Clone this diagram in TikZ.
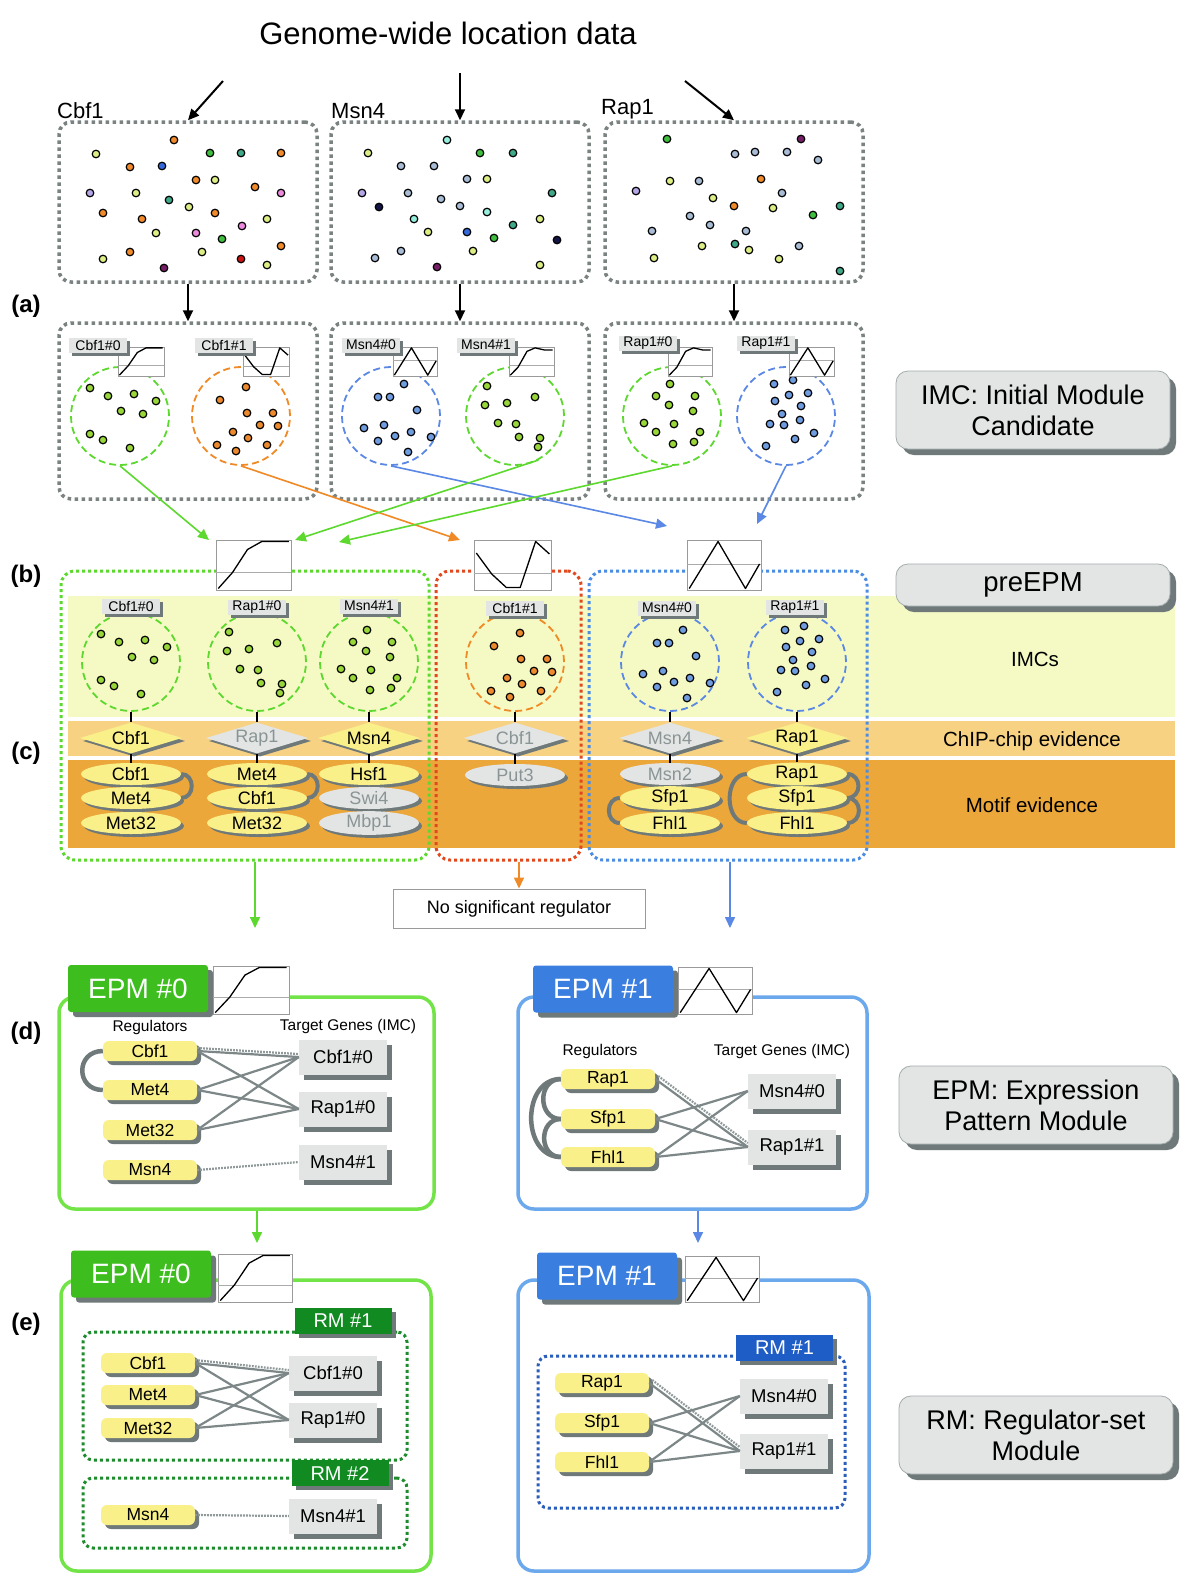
\documentclass[tikz,border=0pt]{standalone}
\usepackage{fontspec}
\setmainfont{Liberation Sans}
\usetikzlibrary{positioning,shapes.geometric,shadows,arrows.meta,calc}

\pgfdeclarelayer{bands}
\pgfdeclarelayer{arcs}
\pgfsetlayers{bands,arcs,main}

\definecolor{dotgray}{HTML}{7A8282}
\definecolor{boxgray}{HTML}{E3E5E5}
\definecolor{bordergray}{HTML}{A4ACAC}
\definecolor{shadowgray}{HTML}{6F7979}
\definecolor{chartgray}{HTML}{9A9A9A}
\definecolor{midgray}{HTML}{ABABAB}
\definecolor{fadegray}{HTML}{8A9494}
\definecolor{linkgray}{HTML}{7D8787}
\definecolor{regyellow}{HTML}{FAF08A}
\definecolor{lgreen}{HTML}{5CD82E}
\definecolor{lorange}{HTML}{F08A26}
\definecolor{lblue}{HTML}{5A88E4}
\definecolor{dotgreen}{HTML}{98D63A}
\definecolor{dotorange}{HTML}{EE8A2E}
\definecolor{dotblue}{HTML}{6F9DE0}
\definecolor{preRed}{HTML}{E2481E}
\definecolor{preBlue}{HTML}{4C8CE2}
\definecolor{bandimc}{HTML}{F5F9C4}
\definecolor{bandchip}{HTML}{F8D283}
\definecolor{bandmotif}{HTML}{EBA73A}
\definecolor{epmgreen}{HTML}{72E448}
\definecolor{headgreen}{HTML}{3DBE1E}
\definecolor{epmblue}{HTML}{6CA8EC}
\definecolor{headblue}{HTML}{3A7EE0}
\definecolor{rmgreen}{HTML}{118A22}
\definecolor{rmblue}{HTML}{1F5DC6}
\definecolor{rmdotgreen}{HTML}{1E8C2C}
\definecolor{rmdotblue}{HTML}{2A5EBA}
% gene dot colours
\definecolor{dor}{HTML}{F08A2A}
\definecolor{dyg}{HTML}{DDEE84}
\definecolor{dgr}{HTML}{3FBE3F}
\definecolor{dte}{HTML}{3FA888}
\definecolor{dbl}{HTML}{3568DA}
\definecolor{dlb}{HTML}{A9BCD6}
\definecolor{dla}{HTML}{B6A6E6}
\definecolor{dpk}{HTML}{EE8ADD}
\definecolor{dpu}{HTML}{771E68}
\definecolor{dnv}{HTML}{141446}
\definecolor{dcy}{HTML}{96EEDC}
\definecolor{dre}{HTML}{CC1414}

\newcommand{\fsz}[1]{\fontsize{#1}{#1}\selectfont}

% expression profiles (x and y from 0 to 1)
\def\risepts{(0.03,0.03) -- (0.22,0.35) -- (0.42,0.81) -- (0.61,0.97) -- (0.97,0.97)}
\def\risemid{0.35}
\def\humppts{(0.03,0.03) -- (0.2,0.3) -- (0.4,0.85) -- (0.58,0.97) -- (0.78,0.9) -- (0.97,0.9)}
\def\humpmid{0.35}
\def\valleypts{(0.03,0.74) -- (0.23,0.32) -- (0.42,0.05) -- (0.60,0.05) -- (0.80,0.97) -- (0.98,0.72)}
\def\valleymid{0.33}
\def\zigpts{(0.03,0.03) -- (0.42,0.97) -- (0.79,0.03) -- (0.98,0.52)}
\def\zigmid{0.52}

% gene positions inside an IMC circle
\def\patGreenA{-30/-28,-12/-20,14/-22,36/-15,1/-5,23/-2,-30/18,-17/24,10/32}
\def\patOrange{5/-29,-21/-16,6/-3,32/-3,19/9,37/10,-8/16,7/22,26/29,-24/29,-5/35}
\def\patBlueA{13/-32,-13/-19,-1/-19,26/-6,-27/12,-7/9,20/16,40/21,-13/25,4/20,17/36}
\def\patGreenB{-28/-30,-30/-11,-8/-13,20/-19,-17/7,1/8,4/21,25/22,23/31}
\def\patGreenC{-2/-32,-16/-20,23/-20,-3/-11,21/-5,-28/7,2/8,-16/16,28/16,1/28,22/26}
\def\patBlueB{-12/-32,7/-36,3/-21,22/-23,-11/-15,15/-10,-4/-2,14/4,-16/8,-2/9,28/17,9/23,-20/30}

% {x}{y}{w}{h}{profile}, x,y = top left corner
\newcommand{\minichart}[5]{%
  \filldraw[fill=white, draw=chartgray, line width=0.8pt] (#1,#2) rectangle ++(#3,#4);
  \begin{scope}[shift={(#1,#2+#4)}, xscale=#3, yscale=-#4]
    \expandafter\let\expandafter\chartpts\csname #5pts\endcsname
    \expandafter\let\expandafter\chartmid\csname #5mid\endcsname
    \draw[midgray, line width=1pt] (0,\chartmid) -- (1,\chartmid);
    \draw[line width=1.3pt, line join=round] \chartpts;
  \end{scope}}

% {cx}{cy}{pattern}{colour}
\newcommand{\imcdots}[4]{%
  \foreach \dx/\dy in #3 {\filldraw[genedot, fill=#4] ({#1+\dx},{#2+\dy}) circle (3.8pt);}}

\tikzset{
  locbox/.style={draw=dotgray, line width=3.5pt, dash pattern=on 3.5pt off 3.5pt,
    rounded corners=12pt, minimum width=258pt},
  factor/.style={font=\fsz{22}, inner sep=0pt, anchor=south west},
  step label/.style={font=\fsz{24}\bfseries},
  genedot/.style={draw=black, line width=1.2pt},
  imccirc/.style={circle, dash pattern=on 7pt off 4pt, line width=1.8pt,
    minimum size=98pt, inner sep=0pt},
  myshadow/.style={drop shadow={fill=shadowgray, opacity=1,
    shadow xshift=#1, shadow yshift=-#1}},
  tag/.style={fill=boxgray, minimum width=58pt, minimum height=15pt, inner sep=1pt,
    font=\fsz{14}, myshadow=3pt},
  infobox/.style={fill=boxgray, draw=bordergray, line width=0.8pt, rounded corners=12pt,
    minimum width=274pt, align=center, font=\fontsize{27}{31}\selectfont, myshadow=6pt},
  bandlabel/.style={font=\fsz{20.5}},
  chip/.style={diamond, aspect=3.3, minimum width=102pt, minimum height=31pt,
    inner sep=0pt, font=\fsz{18}, myshadow=3pt},
  chipY/.style={chip, fill=regyellow},
  chipG/.style={chip, fill=boxgray, text=fadegray},
  motif/.style={ellipse, minimum width=100pt, minimum height=22pt, inner sep=0pt,
    font=\fsz{18}, myshadow=3pt},
  motifY/.style={motif, fill=regyellow},
  motifG/.style={motif, fill=boxgray, text=fadegray},
  motiflink/.style={draw=shadowgray, line width=4pt},
  stem/.style={line width=2.5pt, black},
  prebox/.style={line width=3pt, dash pattern=on 3pt off 3pt, rounded corners=14pt},
  flow/.style={line width=1.6pt, -{Triangle[length=11pt,width=10pt]}},
  epmbox/.style={line width=3.5pt, rounded corners=16pt},
  epmhead/.style={text=white, font=\fsz{28}, minimum width=140pt, minimum height=47pt,
    rounded corners=3pt, myshadow=5pt},
  rmhead/.style={text=white, font=\fsz{20}, minimum width=97pt, minimum height=26pt,
    myshadow=4pt},
  rmbox/.style={line width=3pt, dash pattern=on 3pt off 3pt, rounded corners=10pt},
  colhead/.style={font=\fsz{15.5}},
  regnode/.style={fill=regyellow, rounded corners=6pt, minimum width=94pt,
    minimum height=20pt, inner sep=0pt, font=\fsz{17.5}, myshadow=4pt},
  target/.style={fill=boxgray, minimum width=88pt, minimum height=35pt, inner sep=0pt,
    font=\fsz{18.5}, myshadow=5pt},
  link/.style={draw=linkgray, line width=2.2pt},
  weaklink/.style={draw=linkgray!85, line width=2.2pt, dash pattern=on 1.8pt off 1.2pt},
  regarc/.style={draw=shadowgray, line width=4.5pt},
}

\begin{document}
\begin{tikzpicture}[x=1pt,y=-1pt]
\useasboundingbox (0,0) rectangle (1200,1591);

% background and evidence bands
\begin{pgfonlayer}{bands}
  \fill[white] (0,0) rectangle (1200,1591);
  \fill[bandimc] (68,596) rectangle (1175,717);
  \fill[bandchip] (68,721) rectangle (1175,756);
  \fill[bandmotif] (68,760) rectangle (1175,848);
\end{pgfonlayer}

% Genome-wide location data
\node[font=\fsz{31}] (title) at (448,33) {Genome-wide location data};
\node[locbox, minimum height=160pt] (locCbf) at (188,202) {};
\node[locbox, minimum height=160pt] (locMsn) at (460,202) {};
\node[locbox, minimum height=160pt] (locRap) at (734,202) {};
\node[factor] (facCbf) at (57,119) {Cbf1};
\node[factor] (facMsn) at (331,119) {Msn4};
\node[factor] (facRap) at (601,119) {Rap1};
\coordinate (srcCbf) at (223,81);
\coordinate (srcMsn) at (460,73);
\coordinate (srcRap) at (685,81);
\draw[flow, line width=2pt] (srcCbf) -- (locCbf.north);
\draw[flow, line width=2pt] (srcMsn) -- (locMsn.north);
\draw[flow, line width=2pt] (srcRap) -- (locRap.north);

% bound genes
\foreach \x/\y/\c in {174/140/dor, 96/154/dyg, 210/153/dgr, 241/153/dte, 281/153/dor,
  130/167/dor, 162/166/dbl, 196/180/dor, 215/180/dyg, 255/187/dor, 90/193/dla,
  136/193/dyg, 169/200/dte, 189/207/dyg, 281/193/dpk, 103/213/dor, 142/219/dor,
  215/213/dor, 242/226/dpk, 267/219/dyg, 156/233/dyg, 196/233/dpk, 222/239/dgr,
  281/246/dor, 103/259/dyg, 130/252/dor, 202/252/dyg, 241/259/dre, 267/265/dyg,
  164/268/dpu}
  \filldraw[genedot, fill=\c] (\x,\y) circle (3.8pt);
\foreach \x/\y/\c in {447/140/dcy, 368/153/dyg, 480/153/dgr, 513/153/dte, 401/166/dlb,
  434/166/dlb, 467/179/dlb, 487/179/dyg, 362/193/dla, 408/193/dlb, 441/199/dlb,
  379/207/dnv, 460/206/dlb, 487/212/dcy, 552/193/dte, 414/219/dcy, 428/232/dyg,
  467/232/dbl, 494/238/dgr, 513/225/dte, 540/219/dyg, 557/240/dnv, 375/258/dlb,
  401/251/dlb, 473/251/dyg, 437/267/dpu, 540/265/dyg}
  \filldraw[genedot, fill=\c] (\x,\y) circle (3.8pt);
\foreach \x/\y/\c in {667/139/dgr, 801/139/dpu, 735/154/dlb, 755/152/dlb, 787/152/dlb,
  818/160/dlb, 636/191/dla, 670/181/dyg, 699/181/dlb, 761/179/dor, 713/198/dyg,
  782/193/dlb, 690/216/dlb, 734/206/dor, 773/208/dyg, 813/215/dgr, 840/206/dte,
  652/231/dlb, 710/225/dlb, 746/231/dlb, 654/258/dyg, 702/246/dyg, 735/244/dte,
  749/250/dyg, 799/246/dlb, 779/259/dyg, 840/271/dte}
  \filldraw[genedot, fill=\c] (\x,\y) circle (3.8pt);

% (a) initial module candidates
\node[step label] (stepA) at (26,306) {(a)};
\node[locbox, minimum height=176pt] (imcCbf) at (188,411) {};
\node[locbox, minimum height=176pt] (imcMsn) at (460,411) {};
\node[locbox, minimum height=176pt] (imcRap) at (734,411) {};
\draw[flow, line width=2pt] (locCbf.south) -- (imcCbf.north);
\draw[flow, line width=2pt] (locMsn.south) -- (imcMsn.north);
\draw[flow, line width=2pt] (locRap.south) -- (imcRap.north);

\node[imccirc, draw=lgreen] (aCbfA) at (120,416) {};
\imcdots{120}{416}{\patGreenA}{dotgreen}
\minichart{118}{347}{46}{29}{rise}
\node[tag] (tCbfA) at (98,345) {Cbf1\#0};
\node[imccirc, draw=lorange] (aCbfB) at (241,416) {};
\imcdots{241}{416}{\patOrange}{dotorange}
\minichart{243}{347}{46}{29}{valley}
\node[tag] (tCbfB) at (224,345) {Cbf1\#1};

\node[imccirc, draw=lblue] (aMsnA) at (391,416) {};
\imcdots{391}{416}{\patBlueA}{dotblue}
\minichart{393}{347}{44}{29}{zig}
\node[tag] (tMsnA) at (371,345) {Msn4\#0};
\node[imccirc, draw=lgreen] (aMsnB) at (515,416) {};
\imcdots{515}{416}{\patGreenB}{dotgreen}
\minichart{509}{347}{45}{29}{hump}
\node[tag] (tMsnB) at (486,345) {Msn4\#1};

\node[imccirc, draw=lgreen] (aRapA) at (672,416) {};
\imcdots{672}{416}{\patGreenC}{dotgreen}
\minichart{668}{347}{44}{29}{hump}
\node[tag] (tRapA) at (648,343) {Rap1\#0};
\node[imccirc, draw=lblue] (aRapB) at (786,416) {};
\imcdots{786}{416}{\patBlueB}{dotblue}
\minichart{789}{347}{45}{29}{zig}
\node[tag] (tRapB) at (766,343) {Rap1\#1};

\node[infobox, minimum height=78pt] (imcInfo) at (1033,410) {IMC: Initial Module\\Candidate};

% (a) -> (b)
\coordinate (bInG1) at (209,540);
\coordinate (bInG2) at (295,540);
\coordinate (bInG3) at (339,542);
\coordinate (bInO) at (460,540);
\coordinate (bInB1) at (667,526);
\coordinate (bInB2) at (757,524);
\draw[flow, draw=lgreen] (aCbfA.south) -- (bInG1);
\draw[flow, draw=lorange] (aCbfB.south) -- (bInO);
\draw[flow, draw=lblue] (aMsnA.south) -- (bInB1);
\draw[flow, draw=lgreen] (aMsnB.-62) -- (bInG2);
\draw[flow, draw=lgreen] (aRapA.south) -- (bInG3);
\draw[flow, draw=lblue] (aRapB.south) -- (bInB2);

% (b) preEPMs and (c) evidence
\node[step label] (stepB) at (26,576) {(b)};
\node[step label] (stepC) at (26,753) {(c)};
\node[prebox, draw=lgreen, minimum width=368pt, minimum height=289pt] (pGreen) at (245,715.5) {};
\node[prebox, draw=preRed, minimum width=145pt, minimum height=289pt] (pRed) at (508.5,715.5) {};
\node[prebox, draw=preBlue, minimum width=278pt, minimum height=289pt] (pBlue) at (728,715.5) {};
\minichart{216}{540}{75}{50}{rise}
\minichart{474}{540}{77}{50}{valley}
\minichart{687}{540}{74}{50}{zig}
\node[infobox, minimum height=42pt, font=\fsz{27.5}] (preInfo) at (1033,585) {preEPM};

\node[bandlabel] (lblIMCs) at (1035,659) {IMCs};
\node[bandlabel] (lblChip) at (1032,741) {ChIP-chip evidence};
\node[bandlabel] (lblMotif) at (1032,805) {Motif evidence};

% column 1
\node[imccirc, draw=lgreen] (bc1) at (131,662) {};
\imcdots{131}{662}{\patGreenA}{dotgreen}
\node[tag] (bt1) at (131,606) {Cbf1\#0};
\node[chipY] (bk1) at (131,738) {Cbf1};
\node[motifY] (bm1a) at (131,774) {Cbf1};
\node[motifY] (bm1b) at (131,798) {Met4};
\node[motifY] (bm1c) at (131,823) {Met32};
% column 2
\node[imccirc, draw=lgreen] (bc2) at (257,662) {};
\imcdots{257}{662}{\patGreenB}{dotgreen}
\node[tag] (bt2) at (257,607) {Rap1\#0};
\node[chipG] (bk2) at (257,738) {Rap1};
\node[motifY] (bm2a) at (257,774) {Met4};
\node[motifY] (bm2b) at (257,798) {Cbf1};
\node[motifY] (bm2c) at (257,823) {Met32};
% column 3
\node[imccirc, draw=lgreen] (bc3) at (369,662) {};
\imcdots{369}{662}{\patGreenC}{dotgreen}
\node[tag] (bt3) at (369,606) {Msn4\#1};
\node[chipY] (bk3) at (369,738) {Msn4};
\node[motifY] (bm3a) at (369,774) {Hsf1};
\node[motifG] (bm3b) at (369,798) {Swi4};
\node[motifG] (bm3c) at (369,823) {Mbp1};
% column 4
\node[imccirc, draw=lorange] (bc4) at (515,662) {};
\imcdots{515}{662}{\patOrange}{dotorange}
\node[tag] (bt4) at (515,608) {Cbf1\#1};
\node[chipG] (bk4) at (515,738) {Cbf1};
\node[motifG] (bm4a) at (515,775) {Put3};
% column 5
\node[imccirc, draw=lblue] (bc5) at (670,662) {};
\imcdots{670}{662}{\patBlueA}{dotblue}
\node[tag] (bt5) at (667,608) {Msn4\#0};
\node[chipG] (bk5) at (670,738) {Msn4};
\node[motifG] (bm5a) at (670,774) {Msn2};
\node[motifY] (bm5b) at (670,798) {Sfp1};
\node[motifY] (bm5c) at (670,823) {Fhl1};
% column 6
\node[imccirc, draw=lblue] (bc6) at (797,662) {};
\imcdots{797}{662}{\patBlueB}{dotblue}
\node[tag] (bt6) at (795,607) {Rap1\#1};
\node[chipY] (bk6) at (797,738) {Rap1};
\node[motifY] (bm6a) at (797,774) {Rap1};
\node[motifY] (bm6b) at (797,798) {Sfp1};
\node[motifY] (bm6c) at (797,823) {Fhl1};

\foreach \n in {1,...,6} {
  \draw[stem] (bc\n.south) -- (bk\n.north);
  \draw[stem] (bk\n.south) -- (bm\n a.north);
}

\begin{pgfonlayer}{arcs}
  \draw[motiflink] (bm1a.east) to[out=0,in=0,looseness=1.5] (bm1b.east);
  \draw[motiflink] (bm2a.east) to[out=0,in=0,looseness=1.5] (bm2b.east);
  \draw[motiflink] (bm5b.west) to[out=180,in=180,looseness=1.5] (bm5c.west);
  \draw[motiflink] (bm6a.west) to[out=180,in=180,looseness=1.2] (bm6c.west);
  \draw[motiflink] (bm6a.east) to[out=0,in=0,looseness=1.6] (bm6b.east);
  \draw[motiflink] (bm6b.east) to[out=0,in=0,looseness=1.6] (bm6c.east);
\end{pgfonlayer}

% (c) -> (d)
\node[draw=chartgray, line width=1pt, minimum width=252pt, minimum height=39pt,
  font=\fsz{18}] (nosig) at (519,908.5) {No significant regulator};
\coordinate (dInA) at (255,928);
\coordinate (dInB) at (730,928);
\draw[flow, draw=lgreen] (dInA |- pGreen.south) -- (dInA);
\draw[flow, draw=lorange] (nosig.north |- pRed.south) -- (nosig.north);
\draw[flow, draw=lblue] (dInB |- pBlue.south) -- (dInB);

% (d) expression pattern modules
\node[step label] (stepD) at (26,1033) {(d)};
\node[epmbox, draw=epmgreen, minimum width=375pt, minimum height=212pt] (dEpmA) at (246.5,1103) {};
\node[epmhead, fill=headgreen] (dHeadA) at (138,988.5) {EPM \#0};
\minichart{213}{966}{76}{48}{rise}
\node[colhead] (dRegA) at (150,1027) {Regulators};
\node[colhead] (dTgtA) at (348,1026) {Target Genes (IMC)};
\node[regnode] (dCbf) at (150,1051) {Cbf1};
\node[regnode] (dMet4) at (150,1090) {Met4};
\node[regnode] (dMet32) at (150,1130) {Met32};
\node[regnode] (dMsn4) at (150,1170) {Msn4};
\node[target] (dtCbfA) at (343,1057) {Cbf1\#0};
\node[target] (dtRapA) at (343,1109) {Rap1\#0};
\node[target] (dtMsnB) at (343,1162) {Msn4\#1};
\draw[weaklink] ($(dCbf.east)+(0,-3)$) -- ($(dtCbfA.west)+(0,-3)$);
\foreach \r in {dCbf,dMet4,dMet32}
  \foreach \t in {dtCbfA,dtRapA}
    \draw[link] (\r.east) -- (\t.west);
\draw[weaklink] (dMsn4.east) -- (dtMsnB.west);

\node[epmbox, draw=epmblue, minimum width=349pt, minimum height=212pt] (dEpmB) at (692.5,1103) {};
\node[epmhead, fill=headblue] (dHeadB) at (603,989) {EPM \#1};
\minichart{678}{967}{74}{47}{zig}
\node[colhead] (dRegB) at (600,1051) {Regulators};
\node[colhead] (dTgtB) at (782,1051) {Target Genes (IMC)};
\node[regnode] (dRap) at (608,1079) {Rap1};
\node[regnode] (dSfp) at (608,1119) {Sfp1};
\node[regnode] (dFhl) at (608,1157) {Fhl1};
\node[target] (dtMsnA) at (792,1091) {Msn4\#0};
\node[target] (dtRapB) at (792,1147) {Rap1\#1};
\draw[link] (dRap.east) -- (dtRapB.west);
\draw[weaklink] ($(dRap.east)+(3,-3)$) -- ($(dtRapB.west)+(0,-4)$);
\foreach \r in {dSfp,dFhl}
  \foreach \t in {dtMsnA,dtRapB}
    \draw[link] (\r.east) -- (\t.west);

\begin{pgfonlayer}{arcs}
  \draw[regarc] (dCbf.west) to[out=180,in=180,looseness=1.8] (dMet4.west);
  \draw[regarc] (dRap.west) to[out=180,in=180,looseness=1.5] (dSfp.west);
  \draw[regarc] (dSfp.west) to[out=180,in=180,looseness=1.5] (dFhl.west);
  \draw[regarc] (dRap.west) to[out=180,in=180,looseness=1.3] (dFhl.west);
\end{pgfonlayer}

\node[infobox, minimum height=78pt] (epmInfo) at (1036,1105) {EPM: Expression\\Pattern Module};

% (d) -> (e)
\coordinate (eInA) at (257,1243);
\coordinate (eInB) at (698,1243);
\draw[flow, draw=lgreen] (eInA |- dEpmA.south) -- (eInA);
\draw[flow, draw=lblue] (eInB |- dEpmB.south) -- (eInB);

% (e) regulator-set modules
\node[step label] (stepE) at (26,1324) {(e)};
\node[epmbox, draw=epmgreen, minimum width=370pt, minimum height=291pt] (eEpmA) at (246,1425.5) {};
\node[epmhead, fill=headgreen] (eHeadA) at (141,1274) {EPM \#0};
\minichart{218}{1254}{74}{48}{rise}
\node[rmbox, draw=rmdotgreen, minimum width=324pt, minimum height=128pt] (eRmA) at (245,1396) {};
\node[rmhead, fill=rmgreen] (eRmHeadA) at (343,1321) {RM \#1};
\node[rmbox, draw=rmdotgreen, minimum width=324pt, minimum height=70pt] (eRmB) at (245,1513) {};
\node[rmhead, fill=rmgreen] (eRmHeadB) at (340,1473) {RM \#2};
\node[regnode] (eCbf) at (148,1363) {Cbf1};
\node[regnode] (eMet4) at (148,1395) {Met4};
\node[regnode] (eMet32) at (148,1428) {Met32};
\node[regnode] (eMsn4) at (148,1515) {Msn4};
\node[target] (etCbfA) at (333,1373) {Cbf1\#0};
\node[target] (etRapA) at (333,1420) {Rap1\#0};
\node[target] (etMsnB) at (333,1516) {Msn4\#1};
\draw[weaklink] ($(eCbf.east)+(0,-3)$) -- ($(etCbfA.west)+(0,-3)$);
\foreach \r in {eCbf,eMet4,eMet32}
  \foreach \t in {etCbfA,etRapA}
    \draw[link] (\r.east) -- (\t.west);
\draw[weaklink] (eMsn4.east) -- (etMsnB.west);

\node[epmbox, draw=epmblue, minimum width=351pt, minimum height=291pt] (eEpmB) at (693.5,1425.5) {};
\node[epmhead, fill=headblue] (eHeadB) at (607,1276) {EPM \#1};
\minichart{685}{1256}{74}{46}{zig}
\node[rmbox, draw=rmdotblue, minimum width=307pt, minimum height=152pt] (eRmC) at (691.5,1432) {};
\node[rmhead, fill=rmblue] (eRmHeadC) at (784.5,1348) {RM \#1};
\node[regnode] (eRap) at (602,1383) {Rap1};
\node[regnode] (eSfp) at (602,1423) {Sfp1};
\node[regnode] (eFhl) at (602,1462) {Fhl1};
\node[target] (etMsnA) at (784,1396) {Msn4\#0};
\node[target] (etRapB) at (784,1451) {Rap1\#1};
\draw[link] (eRap.east) -- (etRapB.west);
\draw[weaklink] ($(eRap.east)+(3,-3)$) -- ($(etRapB.west)+(0,-4)$);
\foreach \r in {eSfp,eFhl}
  \foreach \t in {etMsnA,etRapB}
    \draw[link] (\r.east) -- (\t.west);

\node[infobox, minimum height=78pt] (rmInfo) at (1036,1435) {RM: Regulator-set\\Module};

\end{tikzpicture}
\end{document}
